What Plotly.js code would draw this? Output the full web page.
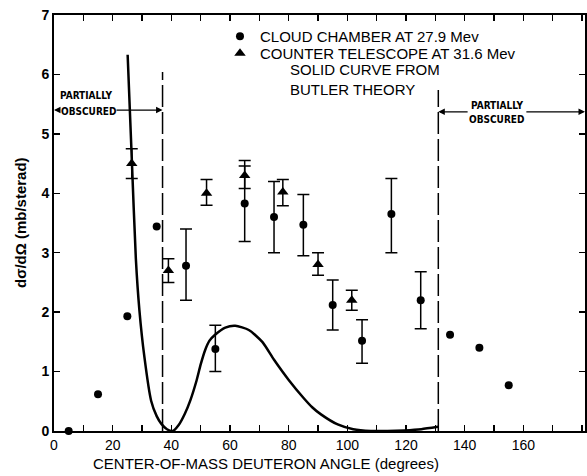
<!DOCTYPE html>
<html><head><meta charset="utf-8">
<script src="https://cdn.plot.ly/plotly-3.0.1.min.js"></script>
<style>html,body{margin:0;padding:0;background:#fff}#chart{width:587px;height:476px}</style>
</head><body><div id="chart"></div>
<script>
// Cloud chamber at 27.9 Mev (circles)
const cloudAngle  = [5, 15, 25, 35, 45, 55, 65, 75, 85, 95, 105, 115, 125, 135, 145, 155];
const cloudValue  = [0, 0.62, 1.93, 3.44, 2.78, 1.38, 3.83, 3.6, 3.47, 2.12, 1.52, 3.65, 2.2, 1.62, 1.4, 0.77];
const cloudTop    = [null, null, null, null, 3.40, 1.78, 4.46, 4.20, 3.98, 2.54, 1.87, 4.25, 2.68, null, null, null];
const cloudBottom = [null, null, null, null, 2.20, 1.00, 3.19, 3.00, 2.95, 1.70, 1.14, 3.00, 1.72, null, null, null];

// Counter telescope at 31.6 Mev (triangles)
const counterAngle  = [26.5, 39, 52, 65, 78, 90, 101.5];
const counterValue  = [4.5, 2.7, 4.0, 4.3, 4.02, 2.8, 2.2];
const counterTop    = [4.75, 2.9, 4.23, 4.55, 4.23, 3.0, 2.37];
const counterBottom = [4.25, 2.5, 3.8, 4.08, 3.79, 2.62, 2.03];

// Butler theory curve
const butlerAngle = [25.1, 26.5, 27.9, 29.1, 30.8, 33.1, 35.0, 36.6, 38.5, 40.5, 42.5, 44.6, 46.5, 48.6, 50.0, 51.5, 53.0, 54.9, 58.4, 61.8, 66.4, 71.0, 75.0, 80.0, 85.0, 88.0, 91.0, 96.7, 102.0, 108.0, 113.7, 119.4, 125.2, 130.9];
const butlerValue = [6.33, 4.6, 2.9, 2.04, 1.25, 0.51, 0.25, 0.12, 0.03, 0.0, 0.1, 0.29, 0.52, 0.85, 1.12, 1.36, 1.52, 1.62, 1.74, 1.77, 1.70, 1.50, 1.2, 0.86, 0.56, 0.4, 0.28, 0.11, 0.03, 0.0, 0.0, 0.01, 0.03, 0.07];

// Partially obscured region boundaries
const obscuredEdges = [37, 131];
const obscuredTops  = [6.04, 5.74];

// Ticks
const xTickVals = [0, 10, 20, 30, 40, 50, 60, 70, 80, 90, 100, 110, 120, 130, 140, 150, 160, 170, 180];
const xTickText = ['0', '', '20', '', '40', '', '60', '', '80', '', '100', '', '120', '', '140', '', '160', '', '180'];
const yTickVals = [0, 1, 2, 3, 4, 5, 6, 7];

const FONT = 'Liberation Sans, Arial, sans-serif';
const NARROW = 'DejaVu Sans Condensed, Liberation Sans Narrow, Arial Narrow, sans-serif';

function plusErr(v, t) { return v.map((y, i) => t[i] == null ? NaN : t[i] - y); }
function minusErr(v, b) { return v.map((y, i) => b[i] == null ? NaN : y - b[i]); }

const traces = [
  {
    x: butlerAngle, y: butlerValue, type: 'scatter', mode: 'lines',
    line: {color: '#000', width: 2.5, shape: 'spline', smoothing: 0.6},
    showlegend: false, hoverinfo: 'skip', cliponaxis: false
  },
  {
    name: 'CLOUD CHAMBER AT 27.9 Mev', legend: 'legend',
    x: cloudAngle, y: cloudValue, type: 'scatter', mode: 'markers',
    marker: {symbol: 'circle', size: 8, color: '#000'},
    error_y: {type: 'data', symmetric: false, array: plusErr(cloudValue, cloudTop), arrayminus: minusErr(cloudValue, cloudBottom), color: '#000', thickness: 1.5, width: 6},
    cliponaxis: false
  },
  {
    name: 'COUNTER TELESCOPE AT 31.6 Mev', legend: 'legend2',
    x: counterAngle, y: counterValue, type: 'scatter', mode: 'markers',
    marker: {symbol: 'triangle-up', size: 10, color: '#000'},
    error_y: {type: 'data', symmetric: false, array: plusErr(counterValue, counterTop), arrayminus: minusErr(counterValue, counterBottom), color: '#000', thickness: 1.5, width: 6},
    cliponaxis: false
  }
];

const shapes = obscuredEdges.map((e, i) => ({
  type: 'line', xref: 'x', yref: 'y', x0: e, x1: e, y0: 0, y1: obscuredTops[i],
  line: {color: '#000', width: 1.5, dash: '22px,5px'}
}));

function arrow(head, tail, y) {
  return {x: head, y: y, ax: tail, ay: y, xref: 'x', yref: 'y', axref: 'x', ayref: 'y',
    text: '', showarrow: true, arrowhead: 2, arrowsize: 1, arrowwidth: 1.3, arrowcolor: '#000', standoff: 0};
}
function label(text, x, y, opts) {
  return Object.assign({text: text, x: x, y: y, xref: 'x', yref: 'y', showarrow: false,
    font: {family: NARROW, size: 10, color: '#000', weight: 'bold'}, xanchor: 'center', yanchor: 'middle'}, opts || {});
}

const annotations = [
  label('PARTIALLY', 10.9, 5.64),
  label('OBSCURED', 11.6, 5.38),
  arrow(0, 2.4, 5.4),
  arrow(obscuredEdges[0], 20.8, 5.4),
  label('PARTIALLY', 151.1, 5.47),
  label('OBSCURED', 151.0, 5.24),
  arrow(obscuredEdges[1], 141.5, 5.37),
  arrow(181, 160.5, 5.37),
  {text: 'SOLID CURVE FROM<br>BUTLER THEORY', align: 'left', xref: 'paper', yref: 'paper', x: 0.4407, y: 0.845, xanchor: 'left', yanchor: 'middle', showarrow: false, font: {family: FONT, size: 15, color: '#000'}},
  {text: 'CENTER-OF-MASS DEUTERON ANGLE (degrees)', xref: 'paper', yref: 'paper', x: 0.3992, y: -0.077, xanchor: 'center', yanchor: 'middle', showarrow: false, font: {family: FONT, size: 15, color: '#000'}},
  {text: 'dσ/dΩ (mb/sterad)', xref: 'paper', yref: 'paper', x: -0.064, y: 0.5, xanchor: 'center', yanchor: 'middle', textangle: -90, showarrow: false, font: {family: FONT, size: 15, color: '#000', weight: 'bold'}}
];

const legendBase = {xanchor: 'left', yanchor: 'top', bgcolor: 'rgba(0,0,0,0)', borderwidth: 0,
  font: {family: FONT, size: 15, color: '#000'}, tracegroupgap: 0};

const layout = {
  width: 587, height: 476,
  margin: {l: 54, r: 2, t: 15, b: 45},
  paper_bgcolor: '#fff', plot_bgcolor: '#fff',
  showlegend: true,
  legend: Object.assign({x: 0.3126, y: 0.988}, legendBase),
  legend2: Object.assign({x: 0.3126, y: 0.947}, legendBase),
  xaxis: {
    range: [0, 181], tickmode: 'array', tickvals: xTickVals, ticktext: xTickText,
    ticks: 'inside', ticklen: 6, tickwidth: 1.5, tickcolor: '#000',
    showline: true, linewidth: 2, linecolor: '#000', mirror: 'ticks',
    showgrid: false, zeroline: false,
    tickfont: {family: FONT, size: 14, color: '#000'}
  },
  yaxis: {
    range: [0, 7], tickmode: 'array', tickvals: yTickVals,
    ticks: 'inside', ticklen: 6, tickwidth: 1.5, tickcolor: '#000',
    showline: true, linewidth: 2, linecolor: '#000', mirror: 'ticks',
    showgrid: false, zeroline: false,
    tickfont: {family: FONT, size: 14, color: '#000', weight: 'bold'}
  },
  shapes: shapes,
  annotations: annotations
};

Plotly.newPlot('chart', traces, layout, {displayModeBar: false, staticPlot: true});
</script>
</body></html>
